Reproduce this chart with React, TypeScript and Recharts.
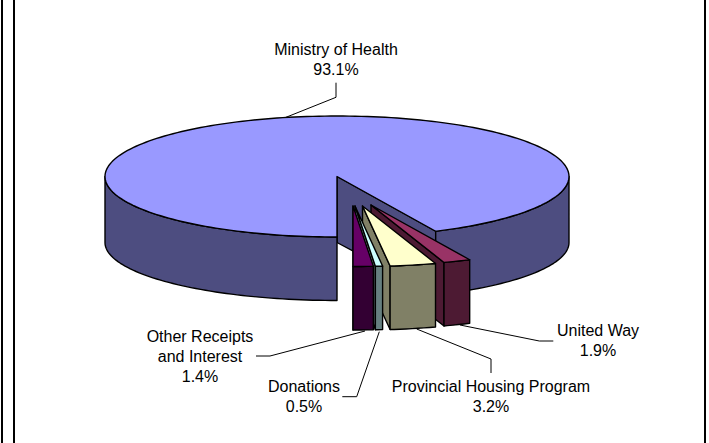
import { PieChart, Pie } from 'recharts';

const categories = ['Ministry of Health', 'United Way', 'Provincial Housing Program', 'Donations', 'Other Receipts and Interest'];
const shares = [93.1, 1.9, 3.2, 0.5, 1.4];

const TOP_COLORS = ['#9999FF', '#993366', '#FFFFCC', '#CCFFFF', '#660066'];
const SIDE_COLORS = ['#4D4D80', '#4D1A33', '#808066', '#668080', '#330033'];

// how far each slice is pulled out of the pie, in px
const EXPLODE = [[0, 0], [34, 28.5], [25.5, 29.5], [18, 29.5], [16, 29.5]];

const LABELS = [
  { lines: ['Ministry of Health'], x: 336, y: 55, leader: '336,82.7 336,97.3 285,117.7' },
  { lines: ['United Way'], x: 598, y: 336, leader: '553.3,341 539.3,341 460,325' },
  { lines: ['Provincial Housing Program'], x: 491, y: 392, leader: '491,373 491,359 416.7,329' },
  { lines: ['Donations'], x: 304, y: 392, leader: '342.3,396.7 356.7,396.7 379.3,331.7' },
  { lines: ['Other Receipts', 'and Interest'], x: 200, y: 342, leader: '256,356 270,356 365,331' },
];

const CX = 337;
const CY = 176.5;
const RX = 232;
const RY = 60.5;
const BASE_RY = 58;
const LINE_HEIGHT = 20;

const data = categories.map((name, i) => ({ name, value: shares[i], fill: TOP_COLORS[i] }));

const rad = (deg: number) => (deg * Math.PI) / 180;

// keep only the part of a clockwise arc on the near (lower) half of the ellipse
const lowerParts = (start: number, end: number) => {
  const parts: [number, number][] = [];
  [[360, 180], [0, -180]].forEach(([hi, lo]) => {
    const s = Math.min(start, hi);
    const e = Math.max(end, lo);
    if (s > e) parts.push([s, e]);
  });
  return parts;
};

const arcAngles = (start: number, end: number) => {
  const list: number[] = [];
  for (let a = start; a > end; a -= 1.5) list.push(a);
  list.push(end);
  return list;
};

function Slice(props: any) {
  const { cx, cy, outerRadius, startAngle, endAngle, name } = props;
  const i = categories.indexOf(name);
  const [ox, oy] = EXPLODE[i];
  const exploded = i > 0;
  const depth = exploded ? 64 : 66;
  const baseRy = exploded ? RY - 0.5 : BASE_RY;
  const scaleY = RY / RX;

  const top = (a: number) => [cx + ox + outerRadius * Math.cos(rad(a)), cy + oy - outerRadius * scaleY * Math.sin(rad(a))];
  const base = (a: number) => [
    cx + ox + outerRadius * Math.cos(rad(a)),
    cy + oy + depth - outerRadius * (baseRy / RX) * Math.sin(rad(a)),
  ];
  const toPath = (pts: number[][]) => `M${pts.map((p) => `${p[0].toFixed(2)},${p[1].toFixed(2)}`).join('L')}Z`;

  const apexTop = [cx + ox, cy + oy];
  const apexBase = [cx + ox, cy + oy + depth];
  const cutWall = toPath([apexTop, top(endAngle), base(endAngle), apexBase]);
  const outerWalls = lowerParts(startAngle, endAngle).map(([s, e]) => {
    const angles = arcAngles(s, e);
    return toPath([...angles.map(top), ...angles.slice().reverse().map(base)]);
  });
  const face = toPath([apexTop, ...arcAngles(startAngle, endAngle).map(top)]);

  const line = { stroke: '#000', strokeWidth: 1.4, strokeLinejoin: 'round' as const };
  return (
    <g>
      <path d={cutWall} fill={SIDE_COLORS[i]} {...line} />
      {outerWalls.map((d) => (
        <path key={d} d={d} fill={SIDE_COLORS[i]} {...line} />
      ))}
      <path d={face} fill={TOP_COLORS[i]} {...line} />
    </g>
  );
}

function SliceLabel(props: any) {
  const i = categories.indexOf(props.name);
  const { lines, x, y, leader } = LABELS[i];
  const textStyle = { fontFamily: '"Liberation Sans", Arial, sans-serif', fontSize: 16, fill: '#000' };
  return (
    <g>
      <polyline points={leader} fill="none" stroke="#000" strokeWidth={1} />
      {lines.map((text, n) => (
        <text key={text} x={x} y={y + n * LINE_HEIGHT} textAnchor="middle" {...textStyle}>
          {text}
        </text>
      ))}
      <text x={x} y={y + lines.length * LINE_HEIGHT} textAnchor="middle" {...textStyle}>
        {`${shares[i].toFixed(1)}%`}
      </text>
    </g>
  );
}

const frameLine = (left: number) => (
  <div style={{ position: 'absolute', left, top: 0, width: 2, height: 443, background: '#000' }} />
);

export default function App() {
  return (
    <div style={{ position: 'absolute', left: 0, top: 0, width: 709, height: 443, background: '#fff', overflow: 'hidden' }}>
      {frameLine(1)}
      {frameLine(13)}
      {frameLine(704)}
      <PieChart width={709} height={443} margin={{ top: 0, right: 0, bottom: 0, left: 0 }}>
        <Pie
          data={data}
          dataKey="value"
          nameKey="name"
          cx={CX}
          cy={CY}
          innerRadius={0}
          outerRadius={RX}
          startAngle={270}
          endAngle={-90}
          stroke="none"
          shape={Slice}
          label={SliceLabel}
          labelLine={false}
          isAnimationActive={false}
        />
      </PieChart>
    </div>
  );
}
